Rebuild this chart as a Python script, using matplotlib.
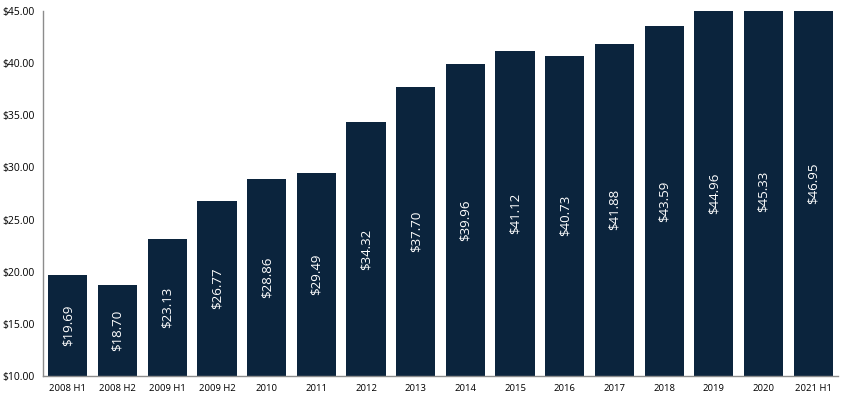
import matplotlib
matplotlib.use("Agg")
import matplotlib.pyplot as plt
import numpy as np

categories = ["2008 H1", "2008 H2", "2009 H1", "2009 H2", "2010", "2011", "2012", "2013",
              "2014", "2015", "2016", "2017", "2018", "2019", "2020", "2021 H1"]
values = [19.69, 18.70, 23.13, 26.77, 28.86, 29.49, 34.32, 37.70,
          39.96, 41.12, 40.73, 41.88, 43.59, 44.96, 45.33, 46.95]
y_ticks = [10, 15, 20, 25, 30, 35, 40, 45]

plt.rcParams['font.family'] = ['Open Sans', 'DejaVu Sans']

fig = plt.figure(figsize=(8.5, 3.99), dpi=100)
ax = fig.add_axes([0.0506, 0.0576, 0.9354, 0.9148])

x = np.arange(len(categories))
color = '#0b243d'
ax.bar(x, values, width=0.79, color=color, bottom=0)
ax.set_ylim(10, 45)
ax.set_xlim(-0.5, len(categories) - 0.5)
ax.set_yticks(y_ticks)
ax.set_yticklabels([f"${t:.2f}" for t in y_ticks], fontsize=7.5)
ax.set_xticks(x)
ax.set_xticklabels(categories, fontsize=6.8)
ax.tick_params(length=0, pad=6)

for xi, v in zip(x, values):
    ax.text(xi, (10 + v) / 2, f"${v:.2f}", rotation=90, ha='center', va='center',
            color='white', fontsize=9.5)

for s in ['top', 'right']:
    ax.spines[s].set_visible(False)
for s in ['left', 'bottom']:
    ax.spines[s].set_color('#8c8c8c')
    ax.spines[s].set_linewidth(1.0)

fig.savefig("out.png", dpi=100)
